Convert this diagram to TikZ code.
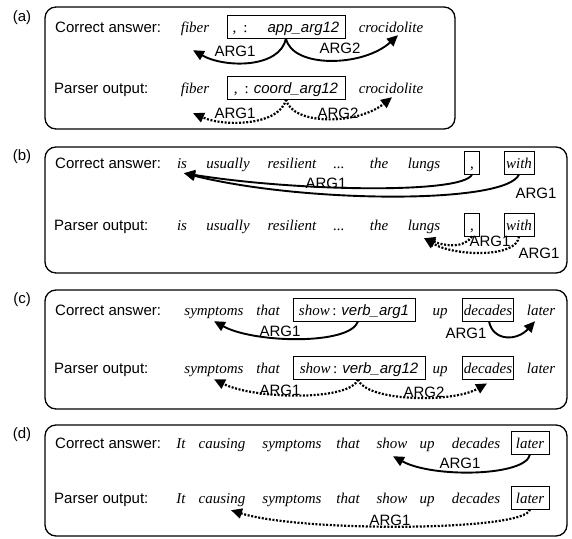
\documentclass[tikz,border=0pt]{standalone}
\usepackage{fontspec}
\setmainfont{Liberation Serif}
\setsansfont{Liberation Sans}
\usetikzlibrary{arrows.meta,calc}
\begin{document}
\begin{tikzpicture}[x=1pt,y=-1pt,
  panel/.style={draw, line width=1.3pt, rounded corners=11pt},
  plab/.style={font=\sffamily\fontsize{15}{18}\selectfont, anchor=base west, inner sep=0pt},
  tag/.style={font=\sffamily\fontsize{15}{18}\selectfont, inner sep=0pt},
  wd/.style={font=\rmfamily\itshape\fontsize{15}{18}\selectfont, anchor=base, inner sep=1pt, text height=11.5pt, text depth=4pt},
  wbox/.style={font=\rmfamily\itshape\fontsize{15}{18}\selectfont, anchor=base, draw, line width=0.8pt, inner xsep=2pt, inner ysep=3pt, text height=14pt, text depth=3pt},
  arg/.style={font=\sffamily\fontsize{15}{18}\selectfont, inner sep=0pt},
  solidarc/.style={line width=1.9pt, -{Triangle[length=11pt,width=10pt]}},
  dotarc/.style={line width=2.2pt, dash pattern=on 2pt off 1.6pt, -{Triangle[length=11pt,width=10pt]}},
]
\useasboundingbox (0,0) rectangle (572,538);

% ---------- panels ----------
\draw[panel] (45,7) rectangle (455,129);
\draw[panel] (45,147) rectangle (567,273);
\draw[panel] (45,290) rectangle (567,409);
\draw[panel] (45,425) rectangle (567,536);

\node[tag] (ta) at (22,18) {(a)};
\node[tag] (tb) at (22,157) {(b)};
\node[tag] (tc) at (22,300) {(c)};
\node[tag] (td) at (22,435) {(d)};

\node[plab] (ca) at (55,32) {Correct answer:};
\node[plab] (pa) at (54,93) {Parser output:};
\node[plab] (cb) at (55,168) {Correct answer:};
\node[plab] (pb) at (54,230) {Parser output:};
\node[plab] (cc) at (55,315) {Correct answer:};
\node[plab] (pc) at (54,373) {Parser output:};
\node[plab] (cd) at (55,448) {Correct answer:};
\node[plab] (pd) at (54,503) {Parser output:};

% ---------- (a) ----------
\node[wd] (a1fib) at (195,32) {fiber};
\node[wbox, minimum width=118pt] (a1box) at (286,32) {{\upshape ,\hspace{7pt}:}\hspace{20pt}{\sffamily app\_arg12}};
\node[wd] (a1cro) at (391,32) {crocidolite};
\draw[solidarc] (a1box.south) .. controls +(-6,30) and +(32,18) .. ($(a1fib.south)+(-2,13)$);
\draw[solidarc] (a1box.south) .. controls +(6,30) and +(-35,32) .. ($(a1cro.south)+(7,-2)$);
\node[arg] (a1l1) at (235,51) {ARG1};
\node[arg] (a1l2) at (340,48) {ARG2};

\node[wd] (a2fib) at (195,93) {fiber};
\node[wbox, minimum width=118pt] (a2box) at (286,93) {{\upshape ,\hspace{7pt}:}\hspace{5pt}{\sffamily coord\_arg12}};
\node[wd] (a2cro) at (391,93) {crocidolite};
\draw[dotarc] (a2box.south) .. controls +(-6,26) and +(32,14) .. ($(a2fib.south)+(-2,15)$);
\draw[dotarc] (a2box.south) .. controls +(6,26) and +(-35,28) .. ($(a2cro.south)+(1,-1)$);
\node[arg] (a2l1) at (235,113) {ARG1};
\node[arg] (a2l2) at (338,113) {ARG2};

% ---------- (b) ----------
\node[wd] (b1is) at (182,168) {is};
\node[wd] (b1usu) at (228,168) {usually};
\node[wd] (b1res) at (292,168) {resilient};
\node[wd] (b1dot) at (339,168) {...};
\node[wd] (b1the) at (379,168) {the};
\node[wd] (b1lun) at (424,168) {lungs};
\node[wbox, minimum width=15pt] (b1com) at (472,168) {{\upshape ,}};
\node[wbox] (b1with) at (519,168) {with};
\draw[solidarc] (b1com.south) .. controls +(-8,20) and +(110,18) .. ($(b1is.south)+(2,0)$);
\draw[solidarc] (b1with.south) .. controls +(-12,30) and +(120,30) .. ($(b1is.south)+(2,0)$);
\node[arg] (b1l1) at (326,183) {ARG1};
\node[arg] (b1l2) at (536,193) {ARG1};

\node[wd] (b2is) at (182,230) {is};
\node[wd] (b2usu) at (228,230) {usually};
\node[wd] (b2res) at (292,230) {resilient};
\node[wd] (b2dot) at (339,230) {...};
\node[wd] (b2the) at (379,230) {the};
\node[wd] (b2lun) at (424,230) {lungs};
\node[wbox, minimum width=15pt] (b2com) at (472,230) {{\upshape ,}};
\node[wbox] (b2with) at (519,230) {with};
\draw[dotarc] (b2com.south) .. controls +(-8,12) and +(22,8) .. ($(b2lun.south)+(0,3)$);
\draw[dotarc] (b2with.south) .. controls +(-2,22) and +(30,18) .. ($(b2lun.south)+(0,3)$);
\node[arg] (b2l1) at (490,241) {ARG1};
\node[arg] (b2l2) at (539,253) {ARG1};

% ---------- (c) ----------
\node[wd] (c1sym) at (214,315) {symptoms};
\node[wd] (c1that) at (268,315) {that};
\node[wbox, minimum width=122pt] (c1box) at (354,315) {show{\upshape\,:}\hspace{5pt}{\sffamily verb\_arg1}};
\node[wd] (c1up) at (440,315) {up};
\node[wbox, inner xsep=1pt] (c1dec) at (488,315) {decades};
\node[wd] (c1lat) at (541,315) {later};
\draw[solidarc] ($(c1box.south)+(4,0)$) .. controls +(-8,24) and +(40,22) .. ($(c1sym.south)+(0,1)$);
\draw[solidarc] ($(c1dec.south)+(1,0)$) .. controls +(4,20) and +(-18,20) .. ($(c1lat.south)+(-6,1)$);
\node[arg] (c1l1) at (280,331) {ARG1};
\node[arg] (c1l2) at (466,333) {ARG1};

\node[wd] (c2sym) at (214,373) {symptoms};
\node[wd] (c2that) at (268,373) {that};
\node[wbox, minimum width=132pt] (c2box) at (359,373) {show{\upshape\,:}\hspace{5pt}{\sffamily verb\_arg12}};
\node[wd] (c2up) at (440,373) {up};
\node[wbox, inner xsep=1pt] (c2dec) at (488,373) {decades};
\node[wd] (c2lat) at (541,373) {later};
\draw[dotarc] ($(c2box.south)+(-1,0)$) .. controls +(-8,22) and +(40,20) .. ($(c2sym.south)+(0,1)$);
\draw[dotarc] ($(c2box.south)+(-1,0)$) .. controls +(8,22) and +(-35,20) .. ($(c2dec.south)+(-1,4)$);
\node[arg] (c2l1) at (280,390) {ARG1};
\node[arg] (c2l2) at (424,392) {ARG2};

% ---------- (d) ----------
\node[wd] (d1it) at (181,448) {It};
\node[wd] (d1cau) at (222,448) {causing};
\node[wd] (d1sym) at (292,448) {symptoms};
\node[wd] (d1that) at (348,448) {that};
\node[wd] (d1show) at (392,448) {show};
\node[wd] (d1up) at (427,448) {up};
\node[wd] (d1dec) at (476,448) {decades};
\node[wbox, minimum width=38pt] (d1lat) at (530,448) {later};
\draw[solidarc] (d1lat.south) .. controls +(-4,22) and +(40,22) .. ($(d1show.south)+(1,3)$);
\node[arg] (d1l1) at (460,463) {ARG1};

\node[wd] (d2it) at (181,503) {It};
\node[wd] (d2cau) at (222,503) {causing};
\node[wd] (d2sym) at (292,503) {symptoms};
\node[wd] (d2that) at (348,503) {that};
\node[wd] (d2show) at (392,503) {show};
\node[wd] (d2up) at (427,503) {up};
\node[wd] (d2dec) at (476,503) {decades};
\node[wbox, minimum width=38pt] (d2lat) at (530,503) {later};
\draw[dotarc] (d2lat.south) .. controls +(-4,22) and +(70,22) .. ($(d2cau.south)+(9,2)$);
\node[arg] (d2l1) at (390,520) {ARG1};
\end{tikzpicture}
\end{document}
